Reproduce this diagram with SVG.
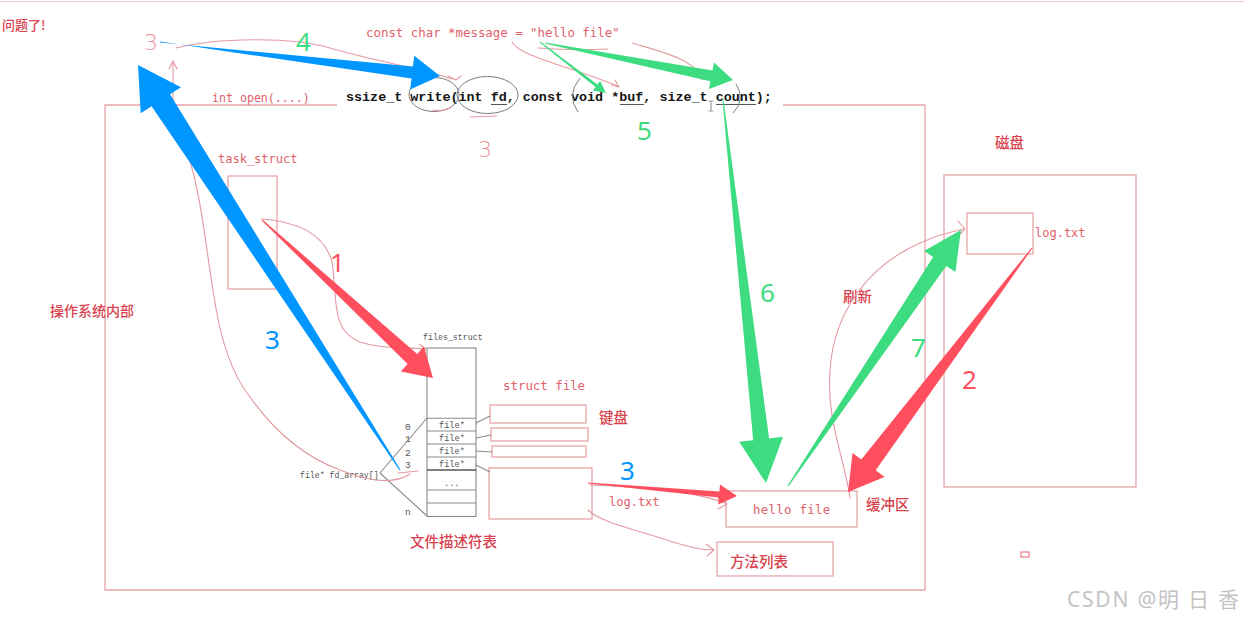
<svg xmlns="http://www.w3.org/2000/svg" width="1244" height="617" viewBox="0 0 1244 617">
<defs>
<style>
.bg{fill:#ffffff}
.frame{fill:none;stroke:#e9a4a9;stroke-width:1.3}
.sk{fill:none;stroke:#e39aa0;stroke-width:1.1;stroke-linecap:round;stroke-linejoin:round}
.grey{fill:none;stroke:#8a8a8a;stroke-width:1.1}
.circ{fill:none;stroke:#7d7d7d;stroke-width:1}
.mono{font-family:"DejaVu Sans Mono","Liberation Mono",monospace;fill:#e0606a}
.code{font-family:"Liberation Mono","DejaVu Sans Mono",monospace;font-weight:bold;fill:#151515;font-size:13.4px}
.tbl{font-family:"Liberation Mono","DejaVu Sans Mono",monospace;fill:#555;font-size:8.6px}
.cn{font-family:"Noto Sans CJK SC","Noto Sans",sans-serif;fill:#d9434f;font-size:14.5px;font-weight:500}
.num{font-family:"Noto Sans","Liberation Sans",sans-serif;font-size:26px}
.hand{font-family:"DejaVu Sans","Liberation Sans",sans-serif;font-size:22px;fill:#e7949c;font-weight:200}
.blue{fill:#0096ff}
.green{fill:#3ddc80}
.red{fill:#ff4f5f}
</style>
</defs>
<rect class="bg" x="0" y="0" width="1244" height="617"/>
<line x1="0" y1="1.5" x2="1244" y2="1.5" stroke="#f4c6ca" stroke-width="1.2"/>

<g id="title">
<text x="2" y="30" class="cn" style="font-size:13px">问题了!</text>
</g>

<g id="os-frame">
<polyline class="frame" points="337,105 105,105 105,590 925,590 925,105 783,105"/>
<text x="50" y="316" class="cn" style="font-size:14px">操作系统内部</text>
<text x="212" y="102" class="mono" style="font-size:11.6px">int open(....)</text>
</g>

<g id="message">
<text x="366" y="37" class="mono" style="font-size:12.4px">const char *message = "hello file"</text>
</g>

<g id="write-sig">
<text x="346" y="101" class="code">ssize_t write(int fd, const void *buf, size_t count);</text>
<line x1="491" y1="104.5" x2="507" y2="104.5" stroke="#555" stroke-width="1"/>
<line x1="620" y1="104.5" x2="644" y2="104.5" stroke="#555" stroke-width="1"/>
<line x1="716" y1="104.5" x2="756" y2="104.5" stroke="#555" stroke-width="1"/>
<ellipse class="circ" cx="434" cy="94.5" rx="25" ry="17"/>
<ellipse class="circ" cx="487.5" cy="95" rx="30.5" ry="18.5"/>
<path class="circ" d="M580,78 Q566,95 578,112"/>
<path class="circ" d="M736,84 Q746,100 733,113"/>
<line x1="711" y1="101" x2="711" y2="111" stroke="#888" stroke-width="1"/>
<line x1="708.5" y1="101" x2="713.5" y2="101" stroke="#888" stroke-width="0.8"/>
<line x1="708.5" y1="111" x2="713.5" y2="111" stroke="#888" stroke-width="0.8"/>
</g>

<g id="task-struct">
<text x="218" y="163" class="mono" style="font-size:12px">task_struct</text>
<rect class="frame" x="228" y="176" width="49" height="113"/>
</g>

<g id="files-struct">
<text x="423" y="340" class="tbl" style="font-size:8.3px">files_struct</text>
<rect class="grey" x="427" y="348" width="49" height="168.5"/>
<line class="grey" x1="427" y1="418.3" x2="476" y2="418.3"/>
<line class="grey" x1="427" y1="431" x2="476" y2="431"/>
<line class="grey" x1="427" y1="444" x2="476" y2="444"/>
<line class="grey" x1="427" y1="457" x2="476" y2="457"/>
<line x1="427" y1="470" x2="476" y2="470" stroke="#555" stroke-width="1.5"/>
<line class="grey" x1="427" y1="490" x2="476" y2="490"/>
<line class="grey" x1="427" y1="503" x2="476" y2="503"/>
<text x="439" y="428" class="tbl">file*</text>
<text x="439" y="441" class="tbl">file*</text>
<text x="439" y="454" class="tbl">file*</text>
<text x="439" y="467" class="tbl">file*</text>
<text x="444" y="486" class="tbl">...</text>
<text x="405" y="430" class="tbl" style="font-size:9.5px">0</text>
<text x="405" y="442" class="tbl" style="font-size:9.5px">1</text>
<text x="405" y="456" class="tbl" style="font-size:9.5px">2</text>
<text x="405" y="468" class="tbl" style="font-size:9.5px">3</text>
<text x="405" y="515" class="tbl" style="font-size:9.5px">n</text>
<text x="300" y="478" class="tbl" style="font-size:8.2px">file* fd_array[]</text>
<text x="410" y="547" class="cn">文件描述符表</text>
</g>

<g id="struct-file">
<text x="503" y="390" class="mono" style="font-size:12.4px">struct file</text>
<rect class="frame" x="490" y="405" width="96" height="18"/>
<rect class="frame" x="491" y="428" width="97" height="13"/>
<rect class="frame" x="492" y="446" width="94" height="11"/>
<rect class="frame" x="489" y="468" width="103" height="51"/>
<text x="599" y="423" class="cn">键盘</text>
<text x="609" y="506" class="mono" style="font-size:12px">log.txt</text>
</g>

<g id="buffer">
<rect class="frame" x="726" y="491" width="131" height="36"/>
<text x="753" y="514" class="mono" style="font-size:12.4px" letter-spacing="0.3">hello file</text>
<text x="866" y="510" class="cn">缓冲区</text>
</g>

<g id="methods">
<rect class="frame" x="717" y="542" width="116" height="34"/>
<text x="730" y="567" class="cn">方法列表</text>
</g>

<g id="disk">
<text x="995" y="148" class="cn">磁盘</text>
<rect class="frame" x="944" y="175" width="192" height="312"/>
<rect class="frame" x="967" y="213" width="66" height="41"/>
<text x="1035" y="237" class="mono" style="font-size:12px">log.txt</text>
<text x="843" y="302" class="cn">刷新</text>
</g>

<g id="misc">
<rect x="1021" y="552" width="8" height="5" fill="none" stroke="#e06070" stroke-width="1"/>
<text x="1067" y="607" font-family="Noto Sans, Noto Sans CJK SC, sans-serif" font-size="21" fill="#c4c4c4" textLength="172" lengthAdjust="spacing">CSDN @明 日 香</text>
</g>

<g id="connectors">
<line class="grey" x1="380" y1="473" x2="427" y2="418"/>
<line class="grey" x1="380" y1="473" x2="427" y2="516"/>
<line class="grey" x1="476" y1="423" x2="490" y2="416"/>
<line class="grey" x1="476" y1="438" x2="491" y2="435"/>
<line class="grey" x1="476" y1="451" x2="492" y2="452"/>
<line class="grey" x1="476" y1="465" x2="490" y2="472"/>
<line class="sk" x1="173" y1="104" x2="173" y2="62"/>
<path class="sk" d="M169,69 L173,61 L177,69"/>
<path class="sk" d="M176,48 C215,38 290,36 330,48 S420,68 452,79"/>
<path class="sk" d="M448,76 L456,80 L461,76"/>
<path class="sk" d="M433,110 Q442,112 450,108"/>
<line class="sk" x1="470" y1="117" x2="497" y2="116"/>
<text x="478" y="157" class="hand">3</text>
<text x="144" y="50" class="hand">3</text>
<path class="sk" d="M538,48 Q575,51 608,49"/>
<path class="sk" d="M512,42 C520,56 562,64 618,86"/>
<path class="sk" d="M611,85 L619,87 L615,80"/>
<path class="sk" d="M632,43 C662,52 690,58 702,77"/>
<path class="sk" d="M697,73 L702,80 L707,74"/>
<path class="sk" d="M188,155 C200,190 205,240 213,290 C220,340 232,375 250,397 C272,428 302,456 340,470 C370,482 395,484 410,474"/>
<path class="sk" d="M398,473 L418,471"/>
<path class="sk" d="M262,219 C300,222 325,235 332,262 C338,300 330,330 360,342 C385,350 410,347 425,349"/>
<path class="sk" d="M419,344 L426,349 L420,353"/>
<path class="sk" d="M590,485 C640,487 690,490 725,503"/>
<path class="sk" d="M718,498 L727,504 L718,509"/>
<path class="sk" d="M588,510 C600,522 630,528 673,542 C690,547 700,550 713,550"/>
<path class="sk" d="M706,544 L714,550 L707,556"/>
<path class="sk" d="M850,498 C845,460 826,420 830,370 C834,310 870,265 920,243 C935,236 950,232 964,229"/>
<path class="sk" d="M958,221 L965,229 L958,236"/>
<polygon class="blue" points="400.5,469.7 170,94.3 181,87.3 138,65 140.7,113.3 151.6,106.3 399.5,470.3"/>
<polygon class="blue" points="160,41.5 411.5,78.6 410.2,89.5 440,76 414.3,55.7 412.9,66.6 160,42.5"/>
<polygon class="red" points="261.7,220.4 407.6,364.1 400.9,371.5 433,378 423.9,346.5 417.2,353.9 262.3,219.6"/>
<polygon class="green" points="539.7,42.4 595.6,86.9 592.8,90.4 606,93 600.2,80.9 597.4,84.5 540.3,41.6"/>
<polygon class="green" points="544.9,43.5 710.3,81.2 709,89 733,80 714,62.5 712.5,70.4 545.1,42.5"/>
<polygon class="green" points="722.5,100.1 753.2,440.2 739.2,441.8 766,483 783,436.8 769.1,438.4 723.5,99.9"/>
<polygon class="green" points="788.5,486.3 946.3,266 955.4,272.1 961,230 924,250.9 933.1,257 787.5,485.7"/>
<polygon class="red" points="1031.6,247.7 861.3,459.5 852.5,452.9 848,492 884.5,476.9 875.7,470.3 1032.4,248.3"/>
<polygon class="red" points="588,483.5 718.8,497.4 718.2,504.4 737,496 720,484.4 719.4,491.4 588,482.5"/>
<text x="296" y="51" class="num green">4</text>
<text x="637" y="140" class="num green">5</text>
<text x="760" y="302" class="num green">6</text>
<text x="911" y="357" class="num green">7</text>
<text x="330" y="272" class="num red">1</text>
<text x="962" y="389" class="num red">2</text>
<text x="265" y="349" class="num blue">3</text>
<text x="620" y="480" class="num blue">3</text>
</g>
</svg>
